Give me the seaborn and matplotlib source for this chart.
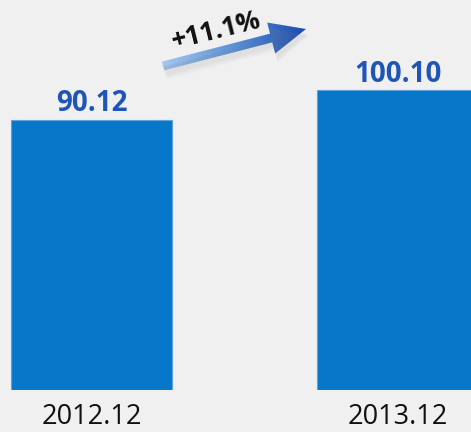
import numpy as np
import pandas as pd
import matplotlib
matplotlib.use('Agg')
import matplotlib.pyplot as plt
import seaborn as sns
from matplotlib.patches import FancyArrow

# chart data
periods = ['2012.12', '2013.12']
values = [90.12, 100.10]
change_label = '+11.1%'

bg = '#F0F0F0'
bar_color = '#0677C9'
label_color = '#1F55B6'

sns.set_theme(style='white')
plt.rcParams['font.family'] = ['Open Sans', 'DejaVu Sans']

df = pd.DataFrame({'period': periods, 'value': values})

fig = plt.figure(figsize=(4.71, 4.32), dpi=100, facecolor=bg)
ax = fig.add_axes([0, 42 / 432, 1, 390 / 432])
ax.set_facecolor(bg)

sns.barplot(data=df, x='period', y='value', color=bar_color, width=0.526,
            saturation=1, edgecolor='#5FA2DD', linewidth=0.8, ax=ax)

ax.set_xlim(-0.299, 1.240)
ax.set_ylim(0, 130)
for s in ax.spines.values():
    s.set_visible(False)
ax.set_yticks([])
ax.set_xlabel('')
ax.set_ylabel('')
ax.tick_params(axis='x', length=0, pad=9, labelsize=19.5, labelcolor='#111111')

for i, v in enumerate(values):
    ax.text(i, v + 0.4, f'{v:.2f}', ha='center', va='bottom', fontsize=20,
            fontweight='bold', color=label_color)

# overlay for the growth arrow (pixel coords)
ov = fig.add_axes([0, 0, 1, 1], facecolor='none')
ov.set_xlim(0, 471)
ov.set_ylim(432, 0)
ov.axis('off')

x0, y0, x1, y1 = 163, 66, 306, 29
dx, dy = x1 - x0, y1 - y0
# soft shadow
for k, a in enumerate([0.06, 0.05, 0.04]):
    sh = FancyArrow(x0 + 2, y0 + 5 + k, dx, dy, width=9 + 2 * k, head_width=32 + 2 * k,
                    head_length=36, length_includes_head=True,
                    facecolor='#808080', edgecolor='none', alpha=a)
    ov.add_patch(sh)

arrow = FancyArrow(x0, y0, dx, dy, width=9, head_width=32, head_length=36,
                   length_includes_head=True, facecolor='none', edgecolor='none')
ov.add_patch(arrow)
cmap = matplotlib.colors.LinearSegmentedColormap.from_list('arr', ['#A8CAEE', '#5A90D6', '#1545AE'])
grad = np.linspace(0, 1, 256).reshape(1, -1)
img = ov.imshow(grad, cmap=cmap, extent=(x0 - 5, x1 + 5, y0 + 25, y1 - 25), aspect='auto')
img.set_clip_path(arrow)
ov.set_xlim(0, 471)
ov.set_ylim(432, 0)

ov.text(216, 31, change_label, ha='center', va='center', fontsize=19,
        fontweight='bold', color='#111111', rotation=14, rotation_mode='anchor')

fig.savefig('out.png', dpi=100, facecolor=bg)
